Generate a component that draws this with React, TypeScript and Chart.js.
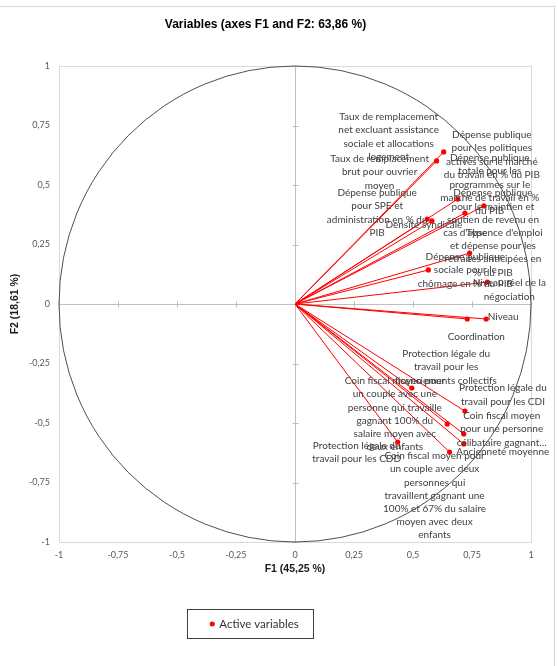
import React, { useEffect, useRef } from "react";
import { Chart, registerables } from "chart.js";

Chart.register(...registerables);

// ---- Data -----------------------------------------------------------------
const chartTitle = "Variables (axes F1 and F2: 63,86 %)";
const xAxisTitle = "F1 (45,25 %)";
const yAxisTitle = "F2 (18,61 %)";
const seriesName = "Active variables";

const variableLabels: string[][] = [
  ["Taux de remplacement", "net excluant assistance", "sociale et allocations", "logement"],
  ["Taux de remplacement", "brut pour ouvrier", "moyen"],
  ["Dépense publique", "pour les politiques", "actives sur le marché", "du travail en % du PIB"],
  ["Dépense publique", "totale pour les", "programmes sur le", "marché de travail en %", "du PIB"],
  ["Dépense publique", "pour le maintien et", "soutien de revenu en", "cas d'absence d'emploi", "et dépense pour les", "retraites anticipées en", "% du PIB"],
  ["Dépense publique", "pour SPE et", "administration en % du", "PIB"],
  ["Densité syndicale"],
  ["Type"],
  ["Dépense publique", "sociale pour le", "chômage en % du PIB"],
  ["Niveau réel de la", "négociation"],
  ["Coordination"],
  ["Niveau"],
  ["Coin fiscal moyen pour", "un couple avec une", "personne qui travaille", "gagnant 100% du", "salaire moyen avec", "deux enfants"],
  ["Protection légale du", "travail pour les CDI"],
  ["Protection légale du", "travail pour les", "licenciements collectifs"],
  ["Coin fiscal moyen", "pour une personne", "célibataire gagnant…"],
  ["Ancienneté moyenne"],
  ["Protection légale du", "travail pour les CDD"],
  ["Coin fiscal moyen pour", "un couple avec deux", "personnes qui", "travaillent gagnant une", "100% et 67% du salaire", "moyen avec deux", "enfants"],
];

const f1Values = [0.63, 0.60, 0.69, 0.80, 0.72, 0.56, 0.58, 0.74, 0.565, 0.815, 0.73, 0.81, 0.495, 0.72, 0.645, 0.715, 0.715, 0.435, 0.655];
const f2Values = [0.639, 0.601, 0.441, 0.412, 0.382, 0.357, 0.349, 0.214, 0.143, 0.092, -0.063, -0.063, -0.353, -0.45, -0.504, -0.546, -0.588, -0.58, -0.622];

const tickValues = [-1, -0.75, -0.5, -0.25, 0, 0.25, 0.5, 0.75, 1];
const tickLabels = ["-1", "-0,75", "-0,5", "-0,25", "0", "0,25", "0,5", "0,75", "1"];

// ---- Styling (label placement offsets in px, relative to each point) ------
const labelOffsets: [number, number][] = [
  [-55, -35], [-57, -2], [34, -64], [6, -48], [28, -20], [-50, -26], [-8, 4],
  [7, -20], [37, -13], [22, 1], [9, 18], [17, -2], [-17, -7], [38, -23],
  [-1, -70], [38, -18], [39, 8], [-41, 4], [-15, 4],
];
const LABEL_LINE_H = 13.2;
const RED = "#ff0000";

const decorPlugin = {
  id: "decor",
  beforeDraw(chart: any) {
    const ctx = chart.ctx;
    ctx.save();
    ctx.fillStyle = "#ffffff";
    ctx.fillRect(0, 0, chart.width, chart.height);
    ctx.strokeStyle = "#d9d9d9";
    ctx.lineWidth = 1;
    ctx.strokeRect(-1.5, 6.5, 556, 670);
    ctx.restore();
  },
  beforeDatasetsDraw(chart: any) {
    const { ctx, chartArea: a, scales } = chart;
    const x = scales.x, y = scales.y;
    ctx.save();
    ctx.lineWidth = 1;
    ctx.strokeStyle = "#d9d9d9";
    ctx.strokeRect(Math.round(a.left) + 0.5, Math.round(a.top) + 0.5, Math.round(a.right - a.left), Math.round(a.bottom - a.top));
    const cx = Math.round(x.getPixelForValue(0)) + 0.5;
    const cy = Math.round(y.getPixelForValue(0)) + 0.5;
    ctx.strokeStyle = "#bfbfbf";
    ctx.beginPath();
    ctx.moveTo(cx, a.top);
    ctx.lineTo(cx, a.bottom);
    ctx.moveTo(a.left, cy);
    ctx.lineTo(a.right, cy);
    for (const v of tickValues) {
      const py = Math.round(y.getPixelForValue(v)) + 0.5;
      ctx.moveTo(cx - 3, py);
      ctx.lineTo(cx + 3, py);
      const px = Math.round(x.getPixelForValue(v)) + 0.5;
      ctx.moveTo(px, cy - 3);
      ctx.lineTo(px, cy + 3);
    }
    ctx.stroke();
    // correlation circle
    const ox = x.getPixelForValue(0), oy = y.getPixelForValue(0);
    ctx.strokeStyle = "#505050";
    ctx.beginPath();
    ctx.ellipse(ox, oy, x.getPixelForValue(1) - ox, oy - y.getPixelForValue(1), 0, 0, Math.PI * 2);
    ctx.stroke();
    ctx.restore();
  },
  afterDatasetsDraw(chart: any) {
    const ctx = chart.ctx;
    const meta = chart.getDatasetMeta(0);
    ctx.save();
    ctx.font = "10px Lato";
    ctx.fillStyle = "#404040";
    ctx.textAlign = "center";
    ctx.textBaseline = "middle";
    variableLabels.forEach((lines, i) => {
      const el = meta.data[i];
      if (!el) return;
      const [dx, dy] = labelOffsets[i];
      lines.forEach((line, j) => {
        ctx.fillText(line, el.x + dx, el.y + dy + j * LABEL_LINE_H);
      });
    });
    ctx.restore();
  },
  afterDraw(chart: any) {
    const ctx = chart.ctx;
    ctx.save();
    ctx.strokeStyle = "#404040";
    ctx.lineWidth = 1;
    ctx.strokeRect(187.5, 609.5, 126, 29);
    ctx.fillStyle = RED;
    ctx.beginPath();
    ctx.arc(212.3, 624, 2.5, 0, Math.PI * 2);
    ctx.fill();
    ctx.fillStyle = "#333333";
    ctx.font = "11.5px Lato";
    ctx.textAlign = "left";
    ctx.textBaseline = "middle";
    ctx.fillText(chart.data.datasets[0].label, 219.3, 624);
    ctx.restore();
  },
};

export default function App() {
  const canvasRef = useRef<HTMLCanvasElement | null>(null);

  useEffect(() => {
    if (!canvasRef.current) return;
    const pointsDataset = {
      label: seriesName,
      data: f1Values.map((v, i) => ({ x: v, y: f2Values[i] })),
      pointRadius: 2.6,
      pointBackgroundColor: RED,
      pointBorderColor: RED,
      pointBorderWidth: 0,
      showLine: false,
    };
    const vectorDatasets = f1Values.map((v, i) => ({
      label: "v" + i,
      data: [
        { x: 0, y: 0 },
        { x: v, y: f2Values[i] },
      ],
      showLine: true,
      borderColor: RED,
      borderWidth: 1,
      pointRadius: 0,
      fill: false,
    }));

    const tickFont = { family: "Lato", size: 9 };
    const chart = new Chart(canvasRef.current, {
      type: "scatter",
      data: { datasets: [pointsDataset, ...vectorDatasets] as any },
      options: {
        responsive: false,
        animation: false,
        devicePixelRatio: 1,
        layout: { padding: { left: 0, right: 27, top: 0, bottom: 0 } },
        plugins: {
          legend: { display: false },
          tooltip: { enabled: false },
          title: {
            display: true,
            text: chartTitle,
            color: "#000000",
            font: { family: "Liberation Sans", size: 12, weight: "bold" },
            padding: { top: 17.8, bottom: 33.8 },
          },
        },
        scales: {
          x: {
            type: "linear",
            min: -1,
            max: 1,
            afterBuildTicks: (s: any) => {
              s.ticks = tickValues.map((v) => ({ value: v }));
            },
            afterFit: (s: any) => {
              s.height = 124;
            },
            ticks: {
              callback: (_v: any, i: number) => tickLabels[i],
              font: tickFont,
              color: "#595959",
              padding: 8,
              maxRotation: 0,
              autoSkip: false,
            },
            grid: { display: false, drawTicks: false },
            border: { display: false },
            title: {
              display: true,
              text: xAxisTitle,
              color: "#1a1a1a",
              font: { family: "Liberation Sans", size: 10.5, weight: "bold" },
              padding: { top: 90.2, bottom: 90.2 },
            },
          },
          y: {
            type: "linear",
            min: -1,
            max: 1,
            afterBuildTicks: (s: any) => {
              s.ticks = tickValues.map((v) => ({ value: v }));
            },
            afterFit: (s: any) => {
              s.width = 59;
            },
            ticks: {
              callback: (_v: any, i: number) => tickLabels[i],
              font: tickFont,
              color: "#595959",
              padding: 9,
              autoSkip: false,
            },
            grid: { display: false, drawTicks: false },
            border: { display: false },
            title: {
              display: true,
              text: yAxisTitle,
              color: "#1a1a1a",
              font: { family: "Liberation Sans", size: 10.5, weight: "bold" },
              padding: { top: 8.7, bottom: 0 },
            },
          },
        },
      } as any,
      plugins: [decorPlugin],
    });
    return () => chart.destroy();
  }, []);

  return (
    <div style={{ position: "absolute", left: 0, top: 0, width: 558, height: 666 }}>
      <canvas ref={canvasRef} width={558} height={666} style={{ display: "block" }} />
    </div>
  );
}
